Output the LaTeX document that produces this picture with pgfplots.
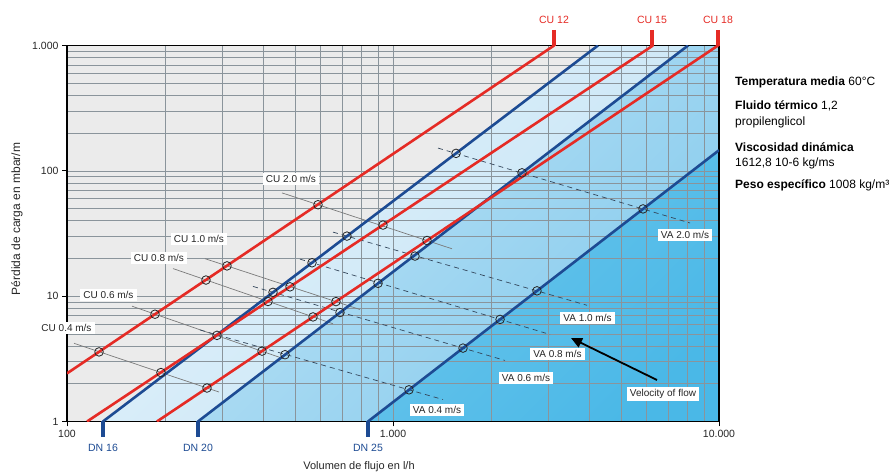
\documentclass[border=0pt]{standalone}
\usepackage{pgfplots}
\pgfplotsset{compat=1.18}
\usepackage{fontspec}
\setmainfont{Liberation Sans}
\usetikzlibrary{arrows.meta}
\definecolor{cured}{HTML}{E52B25}
\definecolor{dnblue}{HTML}{1D4B93}
\definecolor{bggray}{HTML}{EBEBEB}
\definecolor{gridc}{HTML}{8A949B}
\definecolor{velgray}{HTML}{7A7A7A}
\definecolor{vadash}{HTML}{34475C}
\definecolor{bandAa}{HTML}{E3F2FB}
\definecolor{bandAb}{HTML}{C3E3F5}
\definecolor{bandBa}{HTML}{BEE3F6}
\definecolor{bandBb}{HTML}{86CBED}
\definecolor{bandCa}{HTML}{6CC6EC}
\definecolor{bandCb}{HTML}{4AB8E7}
\begin{document}
\begin{tikzpicture}
\begin{axis}[
  set layers,
  at={(67bp,53.5bp)}, anchor=south west,
  scale only axis, width=652bp, height=376bp,
  xmode=log, ymode=log,
  xmin=100, xmax=10000, ymin=1, ymax=1000,
  xtick={100,1000,10000}, xticklabels={100,1.000,10.000},
  ytick={1,10,100,1000}, yticklabels={1,10,100,1.000},
  minor xtick={200,300,400,500,600,700,800,900,2000,3000,4000,5000,6000,7000,8000,9000},
  minor ytick={2,3,4,5,6,7,8,9,20,30,40,50,60,70,80,90,200,300,400,500,600,700,800,900},
  xtick pos=bottom, ytick pos=left,
  grid=both,
  major grid style={draw=gridc, line width=0.65bp},
  minor grid style={draw=gridc, line width=0.65bp},
  axis line style={line width=1.8bp, black},
  tick align=outside,
  major tick length=5bp, minor tick length=0bp,
  tick style={black, line width=1bp},
  ticklabel style={font=\fontsize{10.5bp}{12bp}\selectfont, text=black!85},
  axis background/.style={fill=bggray},
]
% background bands
\addplot[on layer=axis background, draw=none, top color=bandAa, bottom color=bandAb, shading angle=45]
  coordinates {(128.9,1) (4254,1000) (10000,1000) (10000,1)} --cycle;
\addplot[on layer=axis background, draw=none, top color=bandBa, bottom color=bandBb, shading angle=45]
  coordinates {(252.2,1) (8036,1000) (10000,1000) (10000,1)} --cycle;
\addplot[on layer=axis background, draw=none, top color=bandCa, bottom color=bandCb, shading angle=45]
  coordinates {(838,1) (10000,146) (10000,1)} --cycle;
% CU velocity lines (solid gray)
\addplot[velgray, line width=0.7bp] coordinates {(105.1,4.207) (292.6,1.719)};
\addplot[velgray, line width=0.7bp] coordinates {(158.3,8.318) (459.8,3.181)};
\addplot[velgray, line width=0.7bp] coordinates {(211.5,16.60) (654.5,6.026)};
\addplot[velgray, line width=0.7bp] coordinates {(265.0,19.92) (792.1,7.828)};
\addplot[velgray, line width=0.7bp] coordinates {(456.6,66.68) (1516.7,23.89)};
% VA velocity lines (dashed)
\addplot[vadash, line width=0.7bp, dash pattern=on 5bp off 4bp] coordinates {(255.8,5.375) (1423.4,1.497)};
\addplot[vadash, line width=0.7bp, dash pattern=on 5bp off 4bp] coordinates {(372.1,11.96) (2205.6,3.070)};
\addplot[vadash, line width=0.7bp, dash pattern=on 5bp off 4bp] coordinates {(518.5,19.74) (3030.7,4.948)};
\addplot[vadash, line width=0.7bp, dash pattern=on 5bp off 4bp] coordinates {(654.5,32.45) (3937,8.457)};
\addplot[vadash, line width=0.7bp, dash pattern=on 5bp off 4bp] coordinates {(1374,151.9) (8149,38.37)};
% DN lines (blue)
\addplot[dnblue, line width=2.6bp] coordinates {(128.9,1) (4254,1000)};
\addplot[dnblue, line width=2.6bp] coordinates {(252.2,1) (8036,1000)};
\addplot[dnblue, line width=2.6bp] coordinates {(838,1) (10000,146)};
% CU lines (red)
\addplot[cured, line width=2.6bp] coordinates {(100,2.42) (3120,1000)};
\addplot[cured, line width=2.6bp] coordinates {(115.2,1) (6275,1000)};
\addplot[cured, line width=2.6bp] coordinates {(188.8,1) (9933,1000)};
% circles
\addplot[only marks, mark=o, mark size=4.3bp, mark options={draw=black!85, line width=0.8bp}] coordinates {
 (125.4,3.591) (194.2,2.457) (268.8,1.850)
 (186.2,7.178) (288.5,4.866) (396.5,3.644)
 (266.9,13.45) (413.6,9.07) (568.4,6.83)
 (309.6,17.44) (483.1,11.87) (668.5,9.05)
 (588.8,53.65) (931.8,36.92) (1271.5,27.80)
 (428.5,10.73) (564.4,18.47) (722.4,30.15) (1561,137.8)
 (466.4,3.411) (687.7,7.405) (899.5,12.66) (1168,20.89) (2487,96.4)
 (1119.6,1.790) (1639.6,3.852) (2130,6.522) (2765,11.03) (5847,49.66)
};
\end{axis}
\begin{scope}[x=1bp, y=-1bp, shift={(0,475bp)}, font=\fontsize{10bp}{12bp}\selectfont]
 \tikzset{lab/.style={fill=white, inner xsep=3bp, inner ysep=2bp, text=black!85}}
 % DN ticks and labels
 \foreach \xx/\tt in {103/DN 16, 198/DN 20, 368/DN 25}{
   \draw[dnblue, line width=3.5bp] (\xx,421) -- (\xx,437);
   \node[text=dnblue, font=\fontsize{10.5bp}{12bp}\selectfont] at (\xx,448) {\tt};
 }
 \foreach \xx/\tt in {554/CU 12, 652/CU 15, 718/CU 18}{
   \draw[cured, line width=3.5bp] (\xx,30) -- (\xx,46);
   \node[text=cured, font=\fontsize{10.5bp}{12bp}\selectfont] at (\xx,20) {\tt};
 }
 \node[lab] at (291,179) {CU 2.0 m/s};
 \node[lab] at (199,239) {CU 1.0 m/s};
 \node[lab] at (159,258) {CU 0.8 m/s};
 \node[lab] at (108.5,295) {CU 0.6 m/s};
 \node[lab] at (66.5,328) {CU 0.4 m/s};
 \node[lab] at (685,235) {VA 2.0 m/s};
 \node[lab] at (587.5,318) {VA 1.0 m/s};
 \node[lab] at (557.5,354) {VA 0.8 m/s};
 \node[lab] at (526,378) {VA 0.6 m/s};
 \node[lab] at (437,410) {VA 0.4 m/s};
 \node[lab] at (663,394) {Velocity of flow};
 \draw[black, line width=1.8bp, -{Triangle[length=11bp,width=10bp]}] (657,380) -- (571,338);
 % axis labels
 \node[font=\fontsize{11bp}{13bp}\selectfont, text=black!85] at (359,467) {Volumen de flujo en l/h};
 \node[font=\fontsize{12bp}{14bp}\selectfont, text=black!85, rotate=90] at (17,219) {Pérdida de carga en mbar/m};
 % right info text
 \begin{scope}[font=\fontsize{12bp}{16bp}\selectfont]
 \node[anchor=west, inner sep=0] at (735,82) {\textbf{Temperatura media} 60°C};
 \node[anchor=west, inner sep=0] at (735,106) {\textbf{Fluido térmico} 1,2};
 \node[anchor=west, inner sep=0] at (735,122) {propilenglicol};
 \node[anchor=west, inner sep=0] at (735,147) {\textbf{Viscosidad dinámica}};
 \node[anchor=west, inner sep=0] at (735,163) {1612,8 10-6 kg/ms};
 \node[anchor=west, inner sep=0] at (735,185) {\textbf{Peso específico} 1008 kg/m³};
 \end{scope}
\end{scope}
\pgfresetboundingbox
\path[use as bounding box] (0,0) rectangle (893bp,475bp);
\end{tikzpicture}
\end{document}
